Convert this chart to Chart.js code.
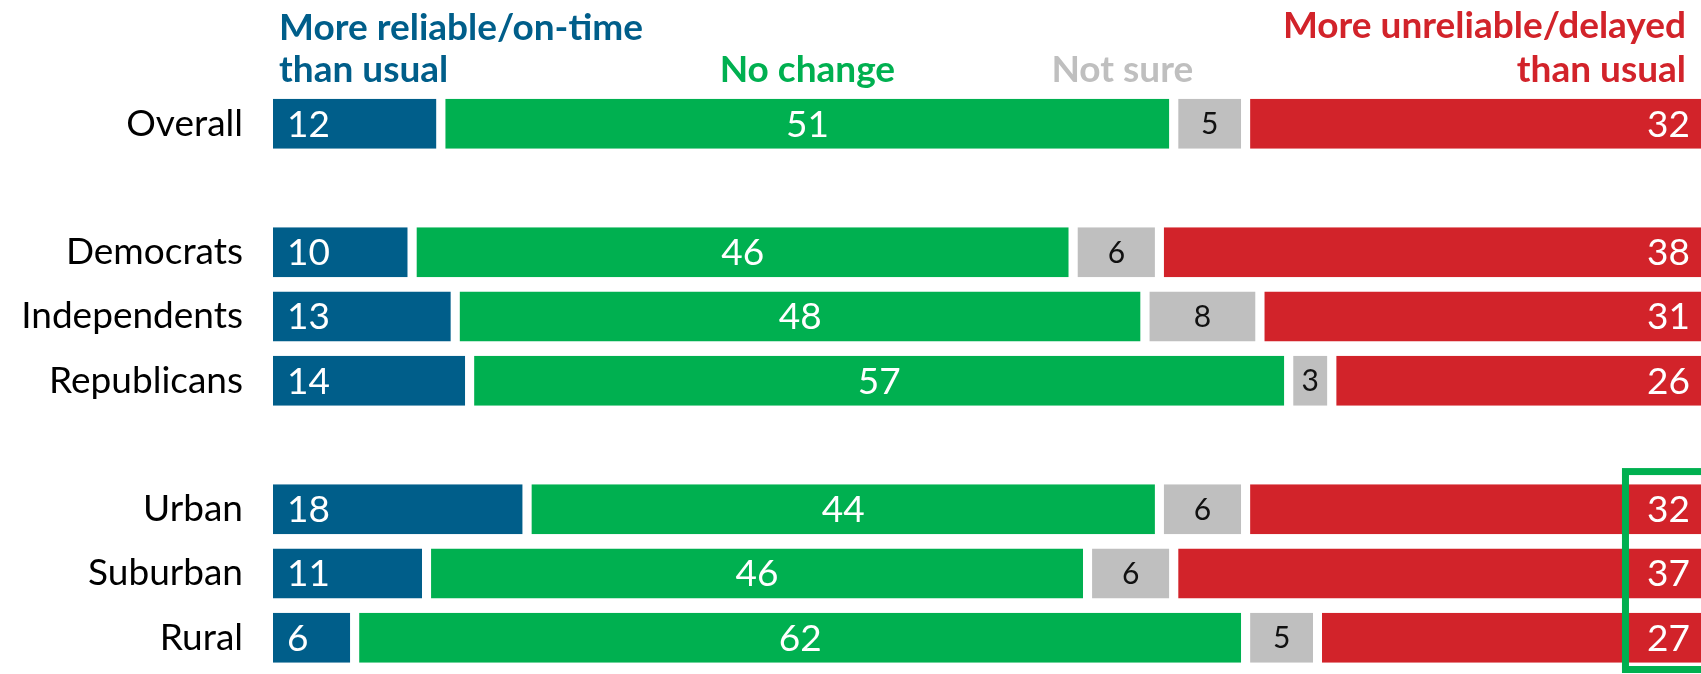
<!DOCTYPE html>
<html><head><meta charset="utf-8">
<script src="https://cdn.jsdelivr.net/npm/chart.js@4.4.1/dist/chart.umd.min.js"></script>
<style>html,body{margin:0;padding:0;background:#fff;overflow:hidden;}#wrap{width:1701px;height:674px;position:relative;}</style>
</head><body><div id="wrap"><canvas id="c"></canvas></div>
<script>
const categories = ['Overall', '', 'Democrats', 'Independents', 'Republicans', '', 'Urban', 'Suburban', 'Rural'];
const reliable   = [12, null, 10, 13, 14, null, 18, 11, 6];
const noChange   = [51, null, 46, 48, 57, null, 44, 46, 62];
const notSure    = [5,  null, 6,  8,  3,  null, 6,  6,  5];
const unreliable = [32, null, 38, 31, 26, null, 32, 37, 27];
const seriesNames = ['More reliable/on-time than usual', 'No change', 'Not sure', 'More unreliable/delayed than usual'];
const headerLines = [['More reliable/on-time', 'than usual'], ['No change'], ['Not sure'], ['More unreliable/delayed', 'than usual']];
const colors = ['#005E8A', '#00B050', '#BFBFBF', '#D2232A'];
const FONT = 'Lato, "Open Sans", sans-serif';
const GAP = 9;

const valueLabels = {
  id: 'valueLabels',
  afterDatasetsDraw(chart) {
    const ctx = chart.ctx;
    ctx.save();
    ctx.textBaseline = 'middle';
    chart.data.datasets.forEach((ds, di) => {
      const meta = chart.getDatasetMeta(di);
      meta.data.forEach((el, i) => {
        const v = ds.data[i];
        if (v == null) return;
        const left = Math.min(el.x, el.base) + GAP;
        const right = Math.max(el.x, el.base);
        const y = el.y + 1;
        if (di === 2) {
          ctx.font = '30px ' + FONT;
          ctx.fillStyle = '#111';
        } else {
          ctx.font = '37px ' + FONT;
          ctx.fillStyle = '#fff';
        }
        if (di === 0) { ctx.textAlign = 'left'; ctx.fillText(String(v), left + 14, y); }
        else if (di === 3) { ctx.textAlign = 'right'; ctx.fillText(String(v), right - 11, y); }
        else { ctx.textAlign = 'center'; ctx.fillText(String(v), (left + right) / 2, y); }
      });
    });
    ctx.restore();
  }
};

const headers = {
  id: 'headers',
  afterDraw(chart) {
    const ctx = chart.ctx;
    const xs = chart.scales.x;
    const ca = chart.chartArea;
    ctx.save();
    ctx.font = 'bold 37px ' + FONT;
    ctx.textBaseline = 'alphabetic';
    ctx.fillStyle = colors[0]; ctx.textAlign = 'left';
    ctx.fillText(headerLines[0][0], ca.left + 15, 40);
    ctx.fillText(headerLines[0][1], ca.left + 15, 82);
    const g0 = xs.getPixelForValue(reliable[0]) + GAP, g1 = xs.getPixelForValue(reliable[0] + noChange[0]);
    ctx.fillStyle = colors[1]; ctx.textAlign = 'center';
    ctx.fillText(headerLines[1][0], (g0 + g1) / 2, 82);
    ctx.fillStyle = colors[2]; ctx.textAlign = 'right';
    ctx.fillText(headerLines[2][0], xs.getPixelForValue(reliable[0] + noChange[0] + notSure[0]) - 48, 82);
    ctx.fillStyle = colors[3]; ctx.textAlign = 'right';
    ctx.fillText(headerLines[3][0], ca.right - 15, 38);
    ctx.fillText(headerLines[3][1], ca.right - 15, 82);
    ctx.restore();
  }
};

const highlightBox = {
  id: 'highlightBox',
  afterDraw(chart) {
    const ctx = chart.ctx;
    const xs = chart.scales.x, ys = chart.scales.y;
    const pitch = ys.getPixelForValue(7) - ys.getPixelForValue(6);
    const x0 = xs.getPixelForValue(94.5);
    const y0 = ys.getPixelForValue(6) - pitch * 0.64;
    const y1 = ys.getPixelForValue(8) + pitch * 0.55;
    const lw = 7;
    ctx.save();
    ctx.strokeStyle = colors[1];
    ctx.lineWidth = lw;
    ctx.strokeRect(x0 + lw / 2, y0 + lw / 2, 200, y1 - y0 - lw);
    ctx.restore();
  }
};

const seriesData = [reliable, noChange, notSure, unreliable];
new Chart(document.getElementById('c'), {
  type: 'bar',
  data: {
    labels: categories,
    datasets: seriesData.map((d, i) => ({
      label: seriesNames[i],
      data: d,
      backgroundColor: colors[i],
      borderColor: '#ffffff',
      borderWidth: { left: GAP, right: 0, top: 0, bottom: 0 },
      borderSkipped: false,
      inflateAmount: 0,
      categoryPercentage: 1,
      barPercentage: 0.778
    }))
  },
  options: {
    indexAxis: 'y',
    responsive: true,
    maintainAspectRatio: false,
    animation: false,
    devicePixelRatio: 1,
    layout: { padding: { top: 91.6, bottom: 4.2, left: 0, right: 0 } },
    plugins: { legend: { display: false }, tooltip: { enabled: false } },
    scales: {
      x: { stacked: true, min: 0, max: 100, display: false },
      y: {
        stacked: true,
        grid: { display: false, drawTicks: false },
        border: { display: false },
        ticks: { color: '#000', font: { family: FONT, size: 37 }, padding: 21, autoSkip: false },
        afterFit(scale) { scale.width = 264; scale.paddingTop = 0; scale.paddingBottom = 0; }
      }
    }
  },
  plugins: [valueLabels, headers, highlightBox]
});
</script>
</body></html>
